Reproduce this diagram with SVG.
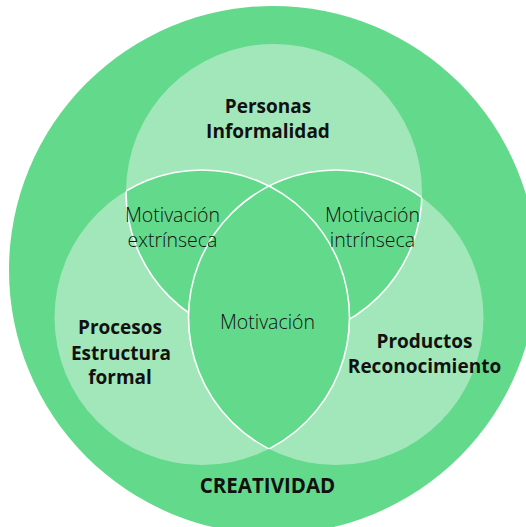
<svg xmlns="http://www.w3.org/2000/svg" width="526" height="527" viewBox="0 0 526 527">
  <style>
    .dark { fill: #62d98b; }
    .light { fill: #a2e7ba; }
    .edge { fill: none; stroke: #ffffff; stroke-width: 1.6; }
    text { font-family: "Open Sans", "Noto Sans", "DejaVu Sans", sans-serif; fill: #111111; text-anchor: middle; }
    .b { font-weight: bold; font-size: 19px; }
    .r { font-weight: 300; font-size: 19.5px; }
  </style>
  <defs>
    <clipPath id="clipT"><circle cx="274" cy="192" r="148"/></clipPath>
    <clipPath id="clipL"><circle cx="202" cy="317.5" r="147.5"/></clipPath>
    <clipPath id="clipLR"><circle cx="202" cy="317.5" r="147.5"/><circle cx="336" cy="317.5" r="147.5"/></clipPath>
    <clipPath id="clipTR"><circle cx="274" cy="192" r="148"/><circle cx="336" cy="317.5" r="147.5"/></clipPath>
    <clipPath id="clipTL"><circle cx="274" cy="192" r="148"/><circle cx="202" cy="317.5" r="147.5"/></clipPath>
  </defs>
  <g id="creatividad">
    <circle class="dark" cx="273" cy="270" r="264"/>
    <text class="b" x="267.5" y="493" style="font-size:20.5px">CREATIVIDAD</text>
  </g>
  <g id="personas">
    <circle class="light" cx="274" cy="192" r="148"/>
    <text class="b" x="268" y="113">Personas</text>
    <text class="b" x="268" y="138">Informalidad</text>
  </g>
  <g id="procesos">
    <circle class="light" cx="202" cy="317.5" r="147.5"/>
  </g>
  <g id="productos">
    <circle class="light" cx="336" cy="317.5" r="147.5"/>
  </g>
  <g id="overlaps">
    <circle class="dark" cx="202" cy="317.5" r="147.5" clip-path="url(#clipT)"/>
    <circle class="dark" cx="336" cy="317.5" r="147.5" clip-path="url(#clipT)"/>
  </g>
  <g id="connectors">
    <circle class="edge" cx="274" cy="192" r="148" clip-path="url(#clipLR)"/>
  </g>
  <g id="motivacion">
    <circle class="dark" cx="336" cy="317.5" r="147.5" clip-path="url(#clipL)"/>
  </g>
  <g id="edges">
    <circle class="edge" cx="202" cy="317.5" r="147.5" clip-path="url(#clipTR)"/>
    <circle class="edge" cx="336" cy="317.5" r="147.5" clip-path="url(#clipTL)"/>
  </g>
  <g id="labels">
    <text class="b" x="120" y="334">Procesos</text>
    <text class="b" x="121" y="360">Estructura</text>
    <text class="b" x="120" y="384">formal</text>
    <text class="b" x="424.5" y="348">Productos</text>
    <text class="b" x="424.5" y="373">Reconocimiento</text>
    <text class="r" x="172.5" y="222">Motivación</text>
    <text class="r" x="172.5" y="247">extrínseca</text>
    <text class="r" x="372.5" y="222">Motivación</text>
    <text class="r" x="372.5" y="247">intrínseca</text>
    <text class="r" x="267.5" y="329">Motivación</text>
  </g>
</svg>
